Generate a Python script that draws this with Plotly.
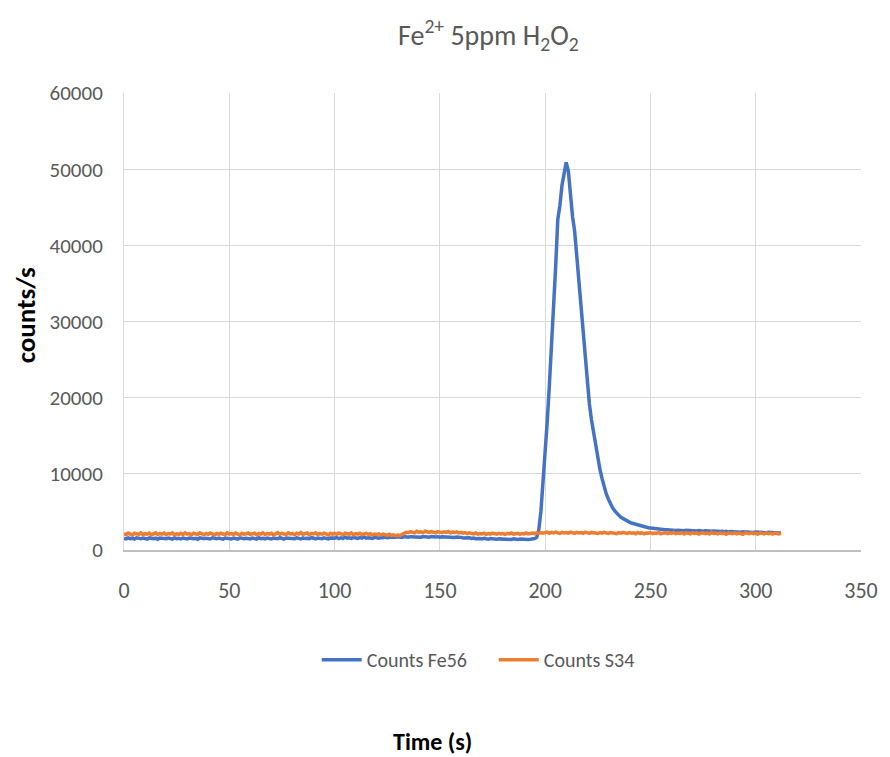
import plotly.graph_objects as go

# Sampling times (1 s interval)
time_s = list(range(0, 313))

# Counts per second, Fe56
counts_fe56 = [
    1520, 1460, 1580, 1490, 1550, 1430, 1600, 1510, 1470, 1560, 1500, 1440, 1590, 1520, 1480, 1550, 1410, 1570, 1500, 1530,
    1470, 1560, 1510, 1440, 1600, 1490, 1530, 1460, 1580, 1500, 1450, 1570, 1520, 1480, 1540, 1420, 1590, 1510, 1470, 1550,
    1500, 1450, 1600, 1530, 1470, 1560, 1490, 1420, 1580, 1510, 1540, 1460, 1570, 1500, 1440, 1590, 1520, 1480, 1550, 1500,
    1460, 1570, 1510, 1430, 1600, 1490, 1540, 1470, 1580, 1510, 1450, 1560, 1520, 1480, 1610, 1500, 1440, 1570, 1530, 1490,
    1550, 1470, 1600, 1520, 1460, 1580, 1500, 1540, 1480, 1620, 1510, 1470, 1570, 1530, 1490, 1600, 1550, 1460, 1580, 1520,
    1560, 1640, 1500, 1590, 1530, 1680, 1550, 1600, 1520, 1650, 1570, 1510, 1620, 1560, 1700, 1540, 1600, 1580, 1530, 1660,
    1590, 1550, 1640, 1600, 1700, 1620, 1680, 1650, 1720, 1690, 1740, 1700, 1660, 1760, 1710, 1680, 1750, 1720, 1690, 1770,
    1730, 1680, 1760, 1710, 1740, 1690, 1780, 1720, 1700, 1750, 1680, 1730, 1700, 1760, 1650, 1710, 1680, 1640, 1700, 1620,
    1660, 1590, 1630, 1560, 1600, 1520, 1570, 1480, 1540, 1500, 1450, 1530, 1470, 1420, 1500, 1440, 1480, 1410, 1460, 1430,
    1470, 1400, 1450, 1420, 1380, 1460, 1410, 1370, 1440, 1400, 1360, 1430, 1390, 1420, 1450, 1500,
    1650, 2700, 5100, 8600, 12700, 16900, 21600, 26400, 31700, 37200,
    43400, 45200, 47900, 49300, 50900, 49800, 46400, 43800, 41900, 38600,
    35200, 31400, 27900, 24600, 21300, 19200, 17100, 15300, 13700, 12100,
    10600, 9400, 8300, 7400, 6700, 6050, 5550, 5150, 4800, 4550,
    4300, 4120, 3930, 3780, 3660, 3540, 3460, 3330, 3260, 3170,
    3110, 3040, 2990, 2930, 2900, 2850, 2830, 2770, 2760, 2710,
    2700, 2650, 2650, 2610, 2600,
    2590, 2560, 2600, 2540, 2570, 2520, 2580, 2550, 2510, 2560, 2530, 2490, 2550, 2500, 2470, 2530, 2480, 2510, 2460, 2500,
    2440, 2490, 2420, 2470, 2400, 2450, 2380, 2430, 2410, 2360, 2420, 2380, 2340, 2400, 2360, 2320, 2380, 2340, 2300, 2360,
    2320, 2280, 2340, 2300, 2260, 2320, 2280, 2240, 2300, 2260, 2230, 2280,
]

# Counts per second, S34
counts_s34 = [
    2150, 2020, 2230, 2080, 1960, 2200, 2110, 2050, 2260, 1990, 2140, 2070, 2210, 1980, 2120, 2250, 2030, 2170, 2090, 2220,
    2010, 2160, 2100, 2240, 1970, 2130, 2060, 2190, 2020, 2250, 2080, 2150, 1990, 2210, 2120, 2040, 2270, 2100, 2000, 2180,
    2060, 2230, 2110, 1980, 2170, 2050, 2200, 2130, 2010, 2260, 2090, 2160, 2030, 2220, 2100, 1970, 2190, 2080, 2140, 2240,
    2040, 2120, 2210, 2000, 2170, 2090, 2250, 2030, 2150, 2080, 2200, 1990, 2130, 2280, 2060, 2180, 2110, 2020, 2240, 2100,
    2160, 2010, 2200, 2090, 2290, 2050, 2140, 2230, 2000, 2180, 2110, 2260, 2040, 2150, 2070, 2220, 2120, 1980, 2190, 2080,
    2170, 2050, 2230, 2100, 2020, 2200, 2130, 2060, 2240, 2000, 2150, 2090, 2210, 2030, 2120, 2180, 2060, 2140, 1990, 2100,
    2050, 2130, 1970, 2080, 2010, 1930, 2060, 1900, 1980, 1870, 1950, 1910, 2040, 2190, 2320, 2280, 2400, 2350, 2260, 2450,
    2330, 2390, 2280, 2460, 2350, 2300, 2420, 2370, 2250, 2410, 2330, 2280, 2390, 2310, 2440, 2260, 2350, 2300, 2380, 2250,
    2320, 2200, 2290, 2150, 2250, 2180, 2120, 2230, 2080, 2170, 2110, 2200, 2060, 2150, 2090, 2210, 2130, 2070, 2180, 2100,
    2160, 2050, 2190, 2110, 2230, 2080, 2140, 2200, 2060, 2170, 2120, 2250, 2100, 2180, 2230, 2140, 2260, 2190, 2300, 2220,
    2280, 2350, 2200, 2310, 2240, 2360, 2270, 2190, 2330, 2250, 2300, 2210, 2340, 2260, 2180, 2320, 2230, 2290, 2200, 2350,
    2250, 2190, 2310, 2230, 2270, 2160, 2290, 2210, 2330, 2240, 2180, 2300, 2220, 2260, 2150, 2280, 2200, 2320, 2230, 2170,
    2290, 2210, 2250, 2140, 2300, 2190, 2260, 2120, 2240, 2200, 2280, 2150, 2230, 2180, 2310, 2130, 2220, 2270, 2160, 2250,
    2190, 2300, 2140, 2230, 2170, 2280, 2110, 2250, 2200, 2130, 2260, 2180, 2240, 2090, 2210, 2270, 2150, 2230, 2100, 2290,
    2180, 2220, 2120, 2260, 2160, 2210, 2080, 2240, 2190, 2140, 2280, 2120, 2230, 2170, 2060, 2250, 2190, 2130, 2270, 2150,
    2220, 2080, 2260, 2180, 2120, 2240, 2150, 2200, 2090, 2230, 2170, 2110, 2200,
]

series_names = ["Counts Fe56", "Counts S34"]
x_ticks = [0, 50, 100, 150, 200, 250, 300, 350]
y_ticks = [0, 10000, 20000, 30000, 40000, 50000, 60000]
y_tick_text = ["0", "10000", "20000", "30000", "40000", "50000", "60000"]

FONT = "Carlito, Liberation Sans, Arial, sans-serif"
GREY = "#595959"

fig = go.Figure()
fig.add_trace(go.Scatter(
    x=time_s, y=counts_fe56, mode="lines", name=series_names[0],
    line=dict(color="#4472C4", width=3.5),
))
fig.add_trace(go.Scatter(
    x=time_s, y=counts_s34, mode="lines", name=series_names[1],
    line=dict(color="#ED7D31", width=3.5),
))

fig.update_layout(
    width=890, height=757,
    margin=dict(l=124, r=21, t=93, b=207),
    paper_bgcolor="white", plot_bgcolor="white",
    font=dict(family=FONT, color=GREY),
    showlegend=True,
    legend=dict(
        orientation="h", x=0.2615, xanchor="left", y=-0.24, yanchor="middle",
        font=dict(family=FONT, size=20, color=GREY),
        itemwidth=40,
        entrywidth=122, entrywidthmode="pixels",
    ),
    xaxis=dict(
        range=[0, 350], tickvals=x_ticks, ticks="",
        showgrid=True, gridcolor="#d9d9d9", gridwidth=1,
        showline=True, linecolor="#bfbfbf", linewidth=1.5,
        zeroline=False,
        tickfont=dict(family=FONT, size=22, color=GREY),
        ticklabelstandoff=20,
    ),
    yaxis=dict(
        range=[0, 60000], tickvals=y_ticks, ticktext=y_tick_text, ticks="",
        showgrid=True, gridcolor="#d9d9d9", gridwidth=1,
        showline=True, linecolor="#d9d9d9", linewidth=1,
        zeroline=False,
        tickfont=dict(family=FONT, size=21, color=GREY),
        ticklabelstandoff=16,
    ),
    annotations=[
        dict(
            text="Fe<sup>2+</sup> 5ppm H<sub>2</sub>O<sub>2</sub>",
            xref="paper", yref="paper", x=0.495, y=1.126,
            xanchor="center", yanchor="middle", showarrow=False,
            font=dict(family=FONT, size=28, color=GREY),
        ),
        dict(
            text="<b>Time (s)</b>",
            xref="paper", yref="paper", x=0.419, y=-0.418,
            xanchor="center", yanchor="middle", showarrow=False,
            font=dict(family=FONT, size=24, color="black"),
        ),
        dict(
            text="<b>counts/s</b>",
            xref="paper", yref="paper", x=-0.134, y=0.514,
            xanchor="center", yanchor="middle", showarrow=False, textangle=-90,
            font=dict(family=FONT, size=27, color="black"),
        ),
    ],
)

fig.write_html("out.html")
